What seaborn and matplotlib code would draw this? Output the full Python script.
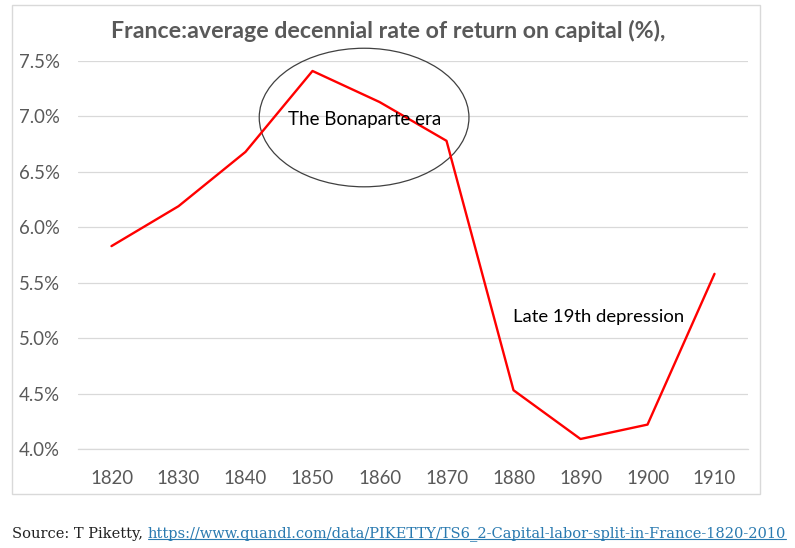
import matplotlib
matplotlib.use("Agg")
import matplotlib.pyplot as plt
from matplotlib.patches import Ellipse, Rectangle
from matplotlib.lines import Line2D
import seaborn as sns
import pandas as pd

years = [1820, 1830, 1840, 1850, 1860, 1870, 1880, 1890, 1900, 1910]
rate = [5.83, 6.19, 6.68, 7.41, 7.13, 6.78, 4.53, 4.09, 4.22, 5.58]
y_ticks = [4.0, 4.5, 5.0, 5.5, 6.0, 6.5, 7.0, 7.5]

title = "France:average decennial rate of return on capital (%),"
source_label = "Source: T Piketty, "
source_url = "https://www.quandl.com/data/PIKETTY/TS6_2-Capital-labor-split-in-France-1820-2010"

df = pd.DataFrame({"year": years, "rate": rate})

sns.set_style("white")
plt.rcParams["font.family"] = ["Lato", "DejaVu Sans"]

fig = plt.figure(figsize=(7.95, 5.48), dpi=100)
ax = fig.add_axes([0.0981, 0.1807, 0.8428, 0.708])

# chart frame like the excel export
fig.patches.append(Rectangle((12 / 795, 1 - 494 / 548), 748 / 795, 489 / 548,
                             transform=fig.transFigure, fill=False,
                             edgecolor="#d9d9d9", linewidth=1))

sns.lineplot(data=df, x="year", y="rate", color="#ff0000", linewidth=1.7, ax=ax)

ax.set_xlim(1815, 1915)
ax.set_ylim(4.0, 7.5)
ax.set_xticks(years)
ax.set_yticks(y_ticks)
ax.set_yticklabels([f"{v:.1f}%" for v in y_ticks])
ax.tick_params(axis="both", length=0, labelsize=13.4, labelcolor="#595959")
ax.tick_params(axis="x", pad=15)
ax.tick_params(axis="y", pad=13)
ax.set_xlabel("")
ax.set_ylabel("")
ax.yaxis.grid(True, color="#d9d9d9", linewidth=0.9)
ax.set_axisbelow(True)
for s in ["top", "right", "left"]:
    ax.spines[s].set_visible(False)
ax.spines["bottom"].set_color("#d9d9d9")
ax.spines["bottom"].set_linewidth(0.9)

ax.add_patch(Ellipse((1857.7, 6.99), 31.3, 1.25, fill=False,
                     edgecolor="#404040", linewidth=0.9, clip_on=False))
ax.text(1857.8, 6.97, "The Bonaparte era", ha="center", va="center",
        fontsize=13.5, color="black")
ax.text(1879.9, 5.19, "Late 19th depression", ha="left", va="center",
        fontsize=13.3, color="black")

fig.text(388 / 795, 1 - 31 / 548, title, ha="center", va="center",
         fontsize=16.7, fontweight="bold", color="#595959")

t1 = fig.text(12 / 795, 1 - 538 / 548, source_label, ha="left", va="baseline",
              fontsize=10.55, color="#222222", family="DejaVu Serif")
t2 = ax.annotate(source_url, xy=(1, 0), xycoords=t1, ha="left", va="bottom",
                 fontsize=10.55, color="#2a7ab0", family="DejaVu Serif",
                 annotation_clip=False)

fig.canvas.draw()
bb = t2.get_window_extent()
inv = fig.transFigure.inverted()
(x0, y0), (x1, _) = inv.transform([(bb.x0, bb.y0 + 2), (bb.x1, bb.y0)])
fig.lines.append(Line2D([x0, x1], [y0, y0], transform=fig.transFigure,
                        color="#2a7ab0", linewidth=0.8))

fig.savefig("out.png", dpi=100, facecolor="white")
